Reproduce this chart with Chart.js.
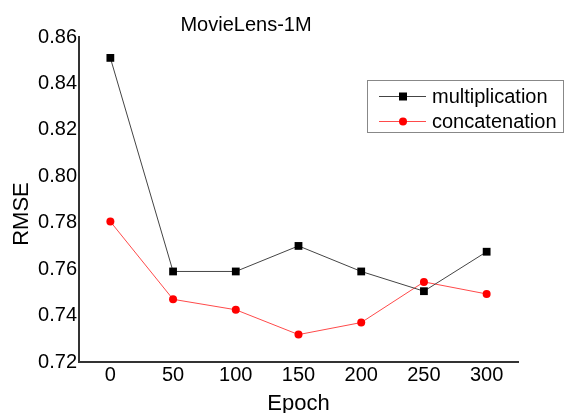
<!DOCTYPE html>
<html>
<head>
<meta charset="utf-8">
<script src="https://cdn.jsdelivr.net/npm/chart.js@4.4.1/dist/chart.umd.min.js"></script>
<style>
  html, body { margin: 0; padding: 0; background: #fff; }
  #wrap { position: relative; width: 564px; height: 413px; }
</style>
</head>
<body>
<div id="wrap"><canvas id="chart" width="564" height="413"></canvas></div>
<script>
// data
const epochs = [0, 50, 100, 150, 200, 250, 300];
const multiplication = [0.851, 0.759, 0.759, 0.770, 0.759, 0.7505, 0.7675];
const concatenation = [0.7805, 0.747, 0.7425, 0.7318, 0.737, 0.7545, 0.7493];
const yTicks = [0.72, 0.74, 0.76, 0.78, 0.80, 0.82, 0.84, 0.86];
const seriesNames = ['multiplication', 'concatenation'];
const chartTitle = 'MovieLens-1M';
const xTitle = 'Epoch';
const yTitle = 'RMSE';

const FONT = '"Liberation Sans", Arial, sans-serif';

function toPoints(ys) {
    return epochs.map((x, i) => ({ x: x, y: ys[i] }));
}

// title, axis titles and boxed legend drawn on top of the chart
const extras = {
    id: 'extras',
    afterDraw(chart) {
        const ctx = chart.ctx;
        const area = chart.chartArea;
        ctx.save();
        ctx.fillStyle = '#000';
        ctx.font = '20px ' + FONT;
        ctx.textAlign = 'center';
        ctx.textBaseline = 'middle';
        ctx.fillText(chartTitle, 246, 25);

        // axis titles
        ctx.font = '22px ' + FONT;
        ctx.fillText(xTitle, (area.left + area.right) / 2, 404);
        ctx.save();
        ctx.translate(22, 214);
        ctx.rotate(-Math.PI / 2);
        ctx.fillText(yTitle, 0, 0);
        ctx.restore();

        // legend box
        ctx.font = '20px ' + FONT;
        ctx.strokeStyle = '#888';
        ctx.lineWidth = 1;
        ctx.strokeRect(367.5, 80.5, 196, 52);

        const rows = [96, 121];
        chart.data.datasets.forEach((ds, i) => {
            const y = rows[i];
            ctx.strokeStyle = ds.borderColor;
            ctx.lineWidth = 1;
            ctx.beginPath();
            ctx.moveTo(379, y + 0.5);
            ctx.lineTo(426, y + 0.5);
            ctx.stroke();
            ctx.fillStyle = ds.pointBackgroundColor;
            ctx.beginPath();
            if (ds.pointStyle === 'rect') {
                ctx.rect(399, y - 3.5, 8, 8);
            } else {
                ctx.arc(403, y + 0.5, 4, 0, Math.PI * 2);
            }
            ctx.fill();
            ctx.fillStyle = '#000';
            ctx.textAlign = 'left';
            ctx.fillText(ds.label, 432, y + 1);
        });
        ctx.restore();
    }
};

new Chart(document.getElementById('chart'), {
    type: 'line',
    data: {
        datasets: [
            {
                label: seriesNames[0],
                data: toPoints(multiplication),
                borderColor: '#444',
                borderWidth: 1,
                pointStyle: 'rect',
                pointRadius: 5.5,
                pointBackgroundColor: '#000',
                pointBorderWidth: 0
            },
            {
                label: seriesNames[1],
                data: toPoints(concatenation),
                borderColor: '#ff4a4a',
                borderWidth: 1,
                pointStyle: 'circle',
                pointRadius: 4,
                pointBackgroundColor: '#ff0000',
                pointBorderWidth: 0
            }
        ]
    },
    options: {
        responsive: false,
        animation: false,
        layout: { padding: { top: 37, right: 46, left: 0, bottom: 0 } },
        plugins: {
            legend: { display: false },
            tooltip: { enabled: false }
        },
        scales: {
            x: {
                type: 'linear',
                min: -25,
                max: 325,
                grid: { display: false, drawTicks: false },
                border: { display: true, color: '#333', width: 2 },
                afterBuildTicks(scale) {
                    scale.ticks = epochs.map(v => ({ value: v }));
                },
                afterFit(scale) { scale.height = 51; },
                ticks: {
                    color: '#000',
                    padding: 1,
                    maxRotation: 0,
                    font: { family: FONT, size: 20 }
                }
            },
            y: {
                min: 0.72,
                max: 0.86,
                grid: { display: false, drawTicks: false },
                border: { display: true, color: '#333', width: 2 },
                afterBuildTicks(scale) {
                    scale.ticks = yTicks.map(v => ({ value: v }));
                },
                afterFit(scale) { scale.width = 79; },
                ticks: {
                    color: '#000',
                    padding: 2,
                    font: { family: FONT, size: 20 },
                    callback: v => v.toFixed(2)
                }
            }
        }
    },
    plugins: [extras]
});
</script>
</body>
</html>
